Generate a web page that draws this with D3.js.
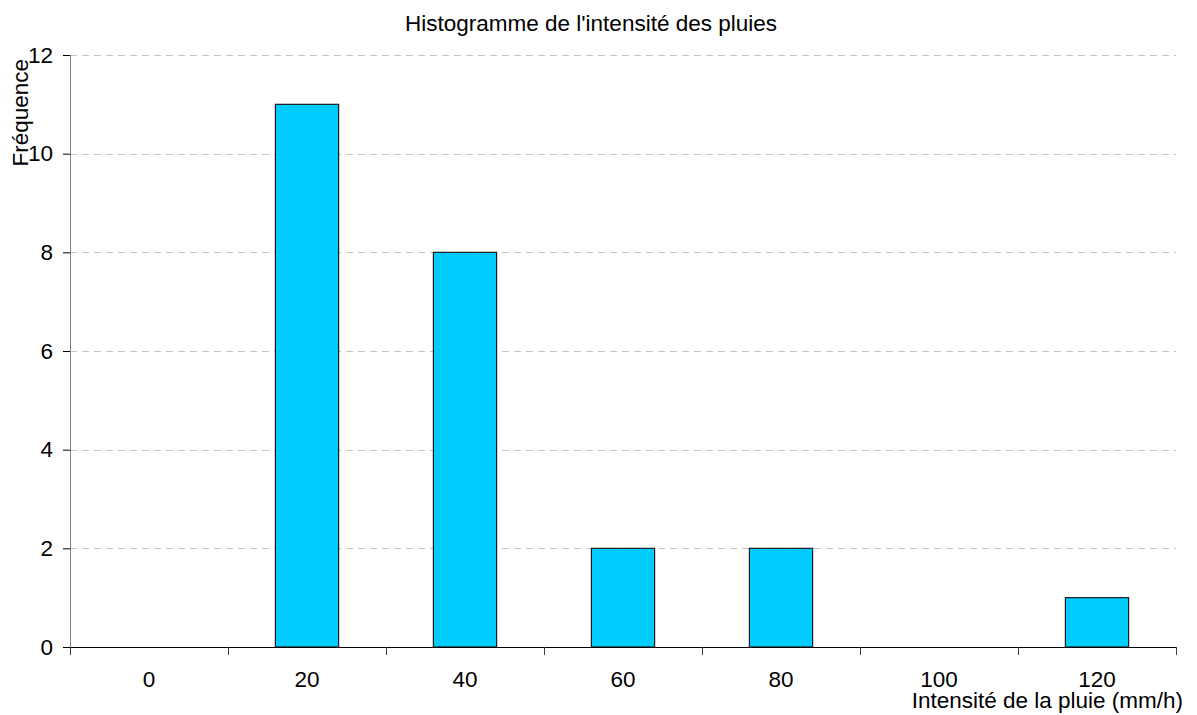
<!DOCTYPE html>
<html>
<head>
<meta charset="utf-8">
<script src="https://cdn.jsdelivr.net/npm/d3@7"></script>
<style>
  body { margin: 0; background: #fff; }
  text { font-family: "Liberation Sans", Arial, sans-serif; fill: #000; }
  .grid line { stroke: #c4c4c4; stroke-dasharray: 7,5; }
</style>
</head>
<body>
<script>
var width = 1197,
    height = 715;

// bin labels (mm/h) and their frequencies
var categories = ["0", "20", "40", "60", "80", "100", "120"];
var counts = [0, 11, 8, 2, 2, 0, 1];
var yTicks = [0, 2, 4, 6, 8, 10, 12];

var margin = {top: 55, right: 21, bottom: 68, left: 70};
var w = width - margin.left - margin.right,
    h = height - margin.top - margin.bottom;

var svg = d3.select("body").append("svg")
    .attr("width", width)
    .attr("height", height);

var x = d3.scaleBand()
    .domain(categories)
    .range([0, w])
    .paddingInner(0.6)
    .paddingOuter(0.3);

var y = d3.scaleLinear()
    .domain([0, 12])
    .range([h, 0]);

var g = svg.append("g")
    .attr("transform", "translate(" + margin.left + "," + margin.top + ")");

// dashed gridlines
g.append("g")
    .attr("class", "grid")
  .selectAll("line")
    .data(yTicks.filter(function(d) { return d > 0; }))
  .enter().append("line")
    .attr("x1", 0)
    .attr("x2", w)
    .attr("y1", function(d) { return Math.round(y(d)) + 0.5; })
    .attr("y2", function(d) { return Math.round(y(d)) + 0.5; });

g.selectAll(".bar")
    .data(counts)
  .enter().append("rect")
    .attr("class", "bar")
    .attr("x", function(d, i) { return x(categories[i]); })
    .attr("width", x.bandwidth())
    .attr("y", function(d) { return y(d); })
    .attr("height", function(d) { return h - y(d); })
    .attr("fill", "#00ccff")
    .attr("stroke", "#1a1a1a")
    .attr("stroke-width", 1.2)
    .style("display", function(d) { return d > 0 ? null : "none"; });

// y axis
var yAxis = g.append("g")
    .call(d3.axisLeft(y).tickValues(yTicks).tickSize(7).tickPadding(10));
yAxis.select(".domain").attr("stroke", "#808080").attr("d", "M0.5," + h + "V0");
yAxis.selectAll(".tick line").attr("stroke", "#000");
yAxis.selectAll("text").style("font-size", "22.5px").attr("font-family", null);

// x axis: ticks on the bin edges, labels centred in the bins
var step = x.step();
var xAxis = g.append("g")
    .attr("transform", "translate(0," + h + ")");
xAxis.append("line")
    .attr("x1", 0).attr("x2", w)
    .attr("y1", 0.5).attr("y2", 0.5)
    .attr("stroke", "#000");
xAxis.selectAll(".xtick")
    .data(d3.range(categories.length + 1))
  .enter().append("line")
    .attr("x1", function(i) { return Math.round(i * step) + 0.5; })
    .attr("x2", function(i) { return Math.round(i * step) + 0.5; })
    .attr("y1", 0)
    .attr("y2", 8)
    .attr("stroke", "#404040");
xAxis.selectAll(".xlabel")
    .data(categories)
  .enter().append("text")
    .attr("x", function(d) { return x(d) + x.bandwidth() / 2; })
    .attr("y", 40)
    .attr("text-anchor", "middle")
    .style("font-size", "22.5px")
    .text(function(d) { return d; });

// titles
svg.append("text")
    .attr("x", 591)
    .attr("y", 31)
    .attr("text-anchor", "middle")
    .style("font-size", "22.5px")
    .text("Histogramme de l'intensité des pluies");

svg.append("text")
    .attr("x", 1183)
    .attr("y", 708)
    .attr("text-anchor", "end")
    .style("font-size", "22.5px")
    .text("Intensité de la pluie (mm/h)");

svg.append("text")
    .attr("transform", "translate(28,59) rotate(-90)")
    .attr("text-anchor", "end")
    .style("font-size", "22.5px")
    .text("Fréquence");
</script>
</body>
</html>
